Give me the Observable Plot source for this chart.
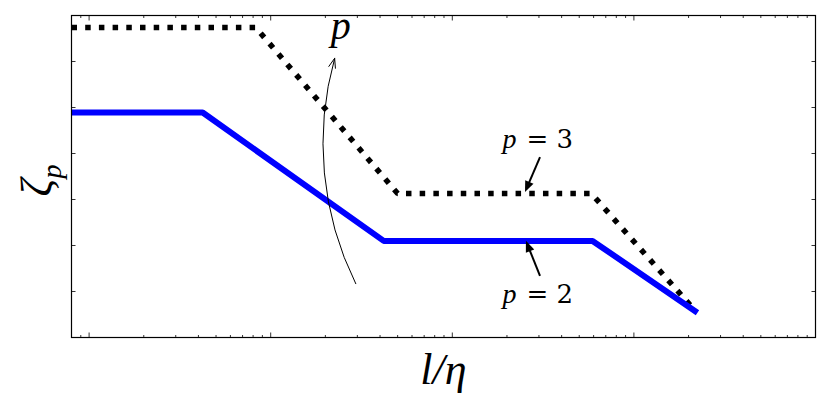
<!DOCTYPE html>
<html><head><meta charset="utf-8">
<script src="https://cdn.jsdelivr.net/npm/d3@7"></script>
<script src="https://cdn.jsdelivr.net/npm/@observablehq/plot@0.6"></script>
<style>body{margin:0;background:#fff}</style>
</head><body><div id="chart"></div>
<script>
// p = 2 (solid blue) and p = 3 (dotted black) piecewise curves
const p2X = [0.8, 4.22, 41.9, 592, 2239];
const p2Y = [4.89, 4.89, 2.10, 2.10, 0.54];
const p3X = [0.8, 8.27, 50.0, 583, 2048];
const p3Y = [6.74, 6.74, 3.13, 3.13, 0.70];

// axis ticks (no tick labels in the original)
const xMajorTicks = [1, 10, 100, 1000, 10000];
const xMinorTicks = [0.9, 2, 3, 4, 5, 6, 7, 8, 9,
  20, 30, 40, 50, 60, 70, 80, 90,
  200, 300, 400, 500, 600, 700, 800, 900,
  2000, 3000, 4000, 5000, 6000, 7000, 8000, 9000];
const yTicks = [1, 2, 3, 4, 5, 6];

// annotations
const annNames = ["3", "2"];
const annX = [306, 306];
const annY = [4.13, 0.76];
const annTailX = [306, 306];
const annTailY = [3.91, 1.33];
const annHeadX = [253, 256];
const annHeadY = [3.15, 2.09];
const pArrowX = [29.4, 22.5];
const pArrowY = [1.17, 6.07];
const pLabel = ["p"];
const pLabelX = [24.3];
const pLabelY = [6.5];
const xLabel = "l/η";
const yLabelMain = "ζ";
const yLabelSub = "p";

const p2 = p2X.map((x, i) => ({x, y: p2Y[i]}));
const p3 = p3X.map((x, i) => ({x, y: p3Y[i]}));
const ann = annNames.map((n, i) => ({n, x: annX[i], y: annY[i], x1: annTailX[i], y1: annTailY[i], x2: annHeadX[i], y2: annHeadY[i]}));
const pArrow = [{x1: pArrowX[0], y1: pArrowY[0], x2: pArrowX[1], y2: pArrowY[1]}];
const pLab = pLabel.map((t, i) => ({t, x: pLabelX[i], y: pLabelY[i]}));

const serif = "Liberation Serif, Times New Roman, serif";
const noLabel = () => "";

function filledArrows(data) {
  return (index, scales) => {
    const g = d3.create("svg:g");
    for (const d of data) {
      const x1 = scales.x(d.x1), y1 = scales.y(d.y1), x2 = scales.x(d.x2), y2 = scales.y(d.y2);
      const a = Math.atan2(y2 - y1, x2 - x1);
      const L = 11, W = 4.5;
      const bx = x2 - L * Math.cos(a), by = y2 - L * Math.sin(a);
      g.append("line").attr("x1", x1).attr("y1", y1).attr("x2", bx + Math.cos(a)).attr("y2", by + Math.sin(a))
        .attr("stroke", "black").attr("stroke-width", 2);
      const pts = [[x2, y2], [bx - W * Math.sin(a), by + W * Math.cos(a)], [bx + W * Math.sin(a), by - W * Math.cos(a)]];
      g.append("polygon").attr("points", pts.map(p => p.join(",")).join(" ")).attr("fill", "black");
    }
    return g.node();
  };
}

const axisOpts = {tickFormat: noLabel, label: null, stroke: "#333"};

const chart = Plot.plot({
  width: 830,
  height: 415,
  marginLeft: 71,
  marginRight: 15,
  marginTop: 15,
  marginBottom: 78,
  style: {background: "#fff", fontFamily: serif},
  x: {type: "log", domain: [0.8, 10000]},
  y: {domain: [0, 7]},
  marks: [
    Plot.axisX({anchor: "bottom", ticks: xMajorTicks, tickSize: -4.5, ...axisOpts}),
    Plot.axisX({anchor: "bottom", ticks: xMinorTicks, tickSize: -2, ...axisOpts}),
    Plot.axisX({anchor: "top", ticks: xMajorTicks, tickSize: -4.5, ...axisOpts}),
    Plot.axisX({anchor: "top", ticks: xMinorTicks, tickSize: -2, ...axisOpts}),
    Plot.axisY({anchor: "left", ticks: yTicks, tickSize: -4.5, ...axisOpts}),
    Plot.axisY({anchor: "right", ticks: yTicks, tickSize: -4.5, ...axisOpts}),
    Plot.line(p3, {x: "x", y: "y", stroke: "black", strokeWidth: 5.5, strokeDasharray: "5.5,8.2", strokeLinecap: "butt", strokeLinejoin: "miter"}),
    Plot.line(p2, {x: "x", y: "y", stroke: "#0000ff", strokeWidth: 6, strokeLinecap: "butt", strokeLinejoin: "miter"}),
    Plot.arrow(pArrow, {x1: "x1", y1: "y1", x2: "x2", y2: "y2", bend: 21, stroke: "black", strokeWidth: 1, headLength: 15, headAngle: 40}),
    Plot.text(pLab, {x: "x", y: "y", text: "t", fontSize: 40, fontStyle: "italic", lineAnchor: "bottom", fill: "black"}),
    filledArrows(ann),
    Plot.text(ann, {x: "x", y: "y", text: () => "p", fontSize: 28, fontStyle: "italic", lineAnchor: "bottom", textAnchor: "start", dx: -38, fill: "black"}),
    Plot.text(ann, {x: "x", y: "y", text: d => "= " + d.n, fontSize: 26, fontFamily: "DejaVu Serif", lineAnchor: "bottom", textAnchor: "start", dx: -14, fill: "black"}),
    Plot.text([xLabel], {frameAnchor: "bottom", text: d => d, fontSize: 44, fontStyle: "italic", lineAnchor: "bottom", dy: 46, fill: "black"}),
    Plot.text([yLabelMain], {frameAnchor: "left", text: d => d, fontSize: 44, fontStyle: "italic", rotate: -90, dx: -35, dy: 20, fill: "black"}),
    Plot.text([yLabelSub], {frameAnchor: "left", text: d => d, fontSize: 28, fontStyle: "italic", rotate: -90, dx: -19, dy: 2, fill: "black"}),
    Plot.frame({stroke: "black", strokeWidth: 1.2})
  ]
});
document.getElementById("chart").appendChild(chart);
</script>
</body></html>
